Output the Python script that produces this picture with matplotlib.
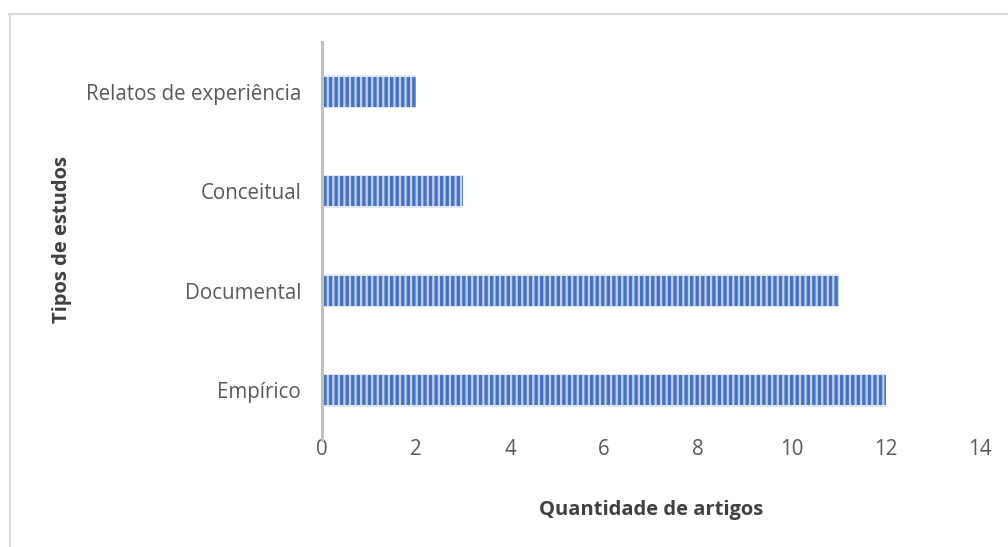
import matplotlib
matplotlib.use("Agg")
import matplotlib.pyplot as plt
from matplotlib.lines import Line2D

categorias = ["Empírico", "Documental", "Conceitual", "Relatos de experiência"]
quantidades = [12, 11, 3, 2]

plt.rcParams["font.family"] = ["Open Sans", "DejaVu Sans"]
plt.rcParams["hatch.linewidth"] = 2.4

fig = plt.figure(figsize=(10.08, 5.47), dpi=100)
ax = fig.add_axes([322 / 1008, 1 - 440 / 547, 658 / 1008, 398 / 547])

y = list(range(len(categorias)))
# soft halo underneath, then striped bars
ax.barh(y, quantidades, height=0.335, color="#d3ddf1", alpha=0.7, linewidth=0)
ax.barh(y, quantidades, height=0.30, color="#c2d0ec", edgecolor="#4472c4",
        hatch="|||", linewidth=0)

ax.set_xlim(0, 14)
ax.set_ylim(-0.5, 3.5)
ax.set_xticks(range(0, 15, 2))
ax.set_yticks(y)
ax.set_yticklabels(categorias)
ax.tick_params(axis="both", length=0, labelsize=14.8, labelcolor="#595959")
ax.tick_params(axis="y", pad=15)
ax.tick_params(axis="x", pad=-1)

for s in ["top", "right", "bottom"]:
    ax.spines[s].set_visible(False)
ax.spines["left"].set_color("#bfbfbf")
ax.spines["left"].set_linewidth(2.2)

fig.text(651 / 1008, 1 - 510 / 547, "Quantidade de artigos", ha="center", va="center",
         fontsize=14.5, fontweight="bold", color="#404040")
fig.text(62 / 1008, 1 - 240 / 547, "Tipos de estudos", ha="center", va="center",
         rotation=90, fontsize=14.5, fontweight="bold", color="#404040")

# chart area frame
fig.add_artist(Line2D([9 / 1008, 1], [1 - 13.5 / 547] * 2, transform=fig.transFigure,
                      color="#d9d9d9", linewidth=1.5))
fig.add_artist(Line2D([9.5 / 1008] * 2, [0, 1 - 13.5 / 547], transform=fig.transFigure,
                      color="#d9d9d9", linewidth=1.5))

fig.savefig("out.png", dpi=100, facecolor="white")
